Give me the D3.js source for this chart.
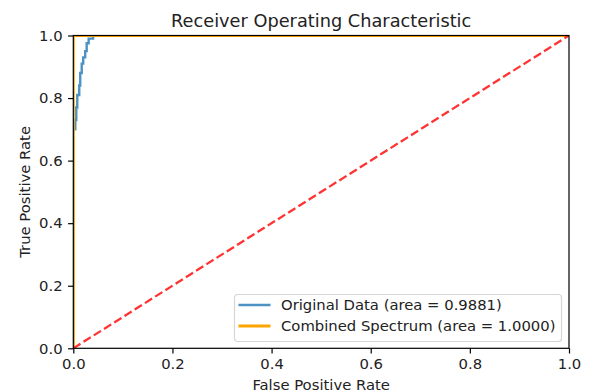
<!DOCTYPE html>
<html>
<head>
<meta charset="utf-8">
<script src="https://cdn.jsdelivr.net/npm/d3@7"></script>
<style>
  body { margin: 0; background: #fff; }
  text { font-family: "DejaVu Sans", sans-serif; fill: #222; }
</style>
</head>
<body>
<div class="chart"></div>
<script>
// chart data
var origFpr = [0, 0, 0.004, 0.004, 0.006, 0.006, 0.008, 0.008, 0.012, 0.012, 0.014, 0.014,
    0.017, 0.017, 0.02, 0.02, 0.024, 0.024, 0.027, 0.027, 0.031, 0.031, 0.04, 0.04, 1];
var origTpr = [0, 0.70, 0.70, 0.73, 0.73, 0.77, 0.77, 0.81, 0.81, 0.84, 0.84, 0.88,
    0.88, 0.91, 0.91, 0.93, 0.93, 0.95, 0.95, 0.975, 0.975, 0.99, 0.99, 1, 1];
var combFpr = [0, 0, 1];
var combTpr = [0, 1, 1];
var diagX = [0, 1], diagY = [0, 1];
var ticks = [0, 0.2, 0.4, 0.6, 0.8, 1.0];
var legendLabels = ["Original Data (area = 0.9881)", "Combined Spectrum (area = 1.0000)"];

var width = 593, height = 392;
var margin = {left: 73.3, right: 24, top: 35.5, bottom: 43.7};
var fs = 14.8; // base font size

var svg = d3.select("div.chart").append("svg")
    .attr("width", width)
    .attr("height", height);

var x = d3.scaleLinear().domain([0, 1]).range([margin.left, width - margin.right]);
var y = d3.scaleLinear().domain([0, 1]).range([height - margin.bottom, margin.top]);

//axes
svg.append("g")
    .attr("transform", "translate(0," + y(0) + ")")
    .call(d3.axisBottom(x).tickValues(ticks).tickFormat(d3.format(".1f")).tickSize(5.2).tickPadding(5))
    .call(g => g.select(".domain").remove())
    .call(g => g.selectAll("text").style("font-size", fs + "px").style("font-family", "DejaVu Sans"));

svg.append("g")
    .attr("transform", "translate(" + x(0) + ",0)")
    .call(d3.axisLeft(y).tickValues(ticks).tickFormat(d3.format(".1f")).tickSize(5.2).tickPadding(5.5))
    .call(g => g.select(".domain").remove())
    .call(g => g.selectAll("text").style("font-size", fs + "px").style("font-family", "DejaVu Sans"));

svg.selectAll(".tick line").attr("stroke", "#000").attr("stroke-width", 1.2);

svg.append("clipPath").attr("id", "clip")
    .append("rect")
    .attr("x", x(0)).attr("y", y(1))
    .attr("width", x(1) - x(0)).attr("height", y(0) - y(1));

var line = d3.line().x(d => x(d[0])).y(d => y(d[1]));
var plot = svg.append("g").attr("clip-path", "url(#clip)");

plot.append("path")
    .datum(d3.zip(origFpr, origTpr))
    .attr("d", line)
    .attr("fill", "none")
    .attr("stroke", "#1f77b4")
    .attr("stroke-opacity", 0.8)
    .attr("stroke-width", 2.4);

plot.append("path")
    .datum(d3.zip(combFpr, combTpr))
    .attr("d", line)
    .attr("fill", "none")
    .attr("stroke", "orange")
    .attr("stroke-width", 3);

plot.append("path")
    .datum(d3.zip(diagX, diagY))
    .attr("d", line)
    .attr("fill", "none")
    .attr("stroke", "red")
    .attr("stroke-opacity", 0.8)
    .attr("stroke-width", 2.3)
    .attr("stroke-dasharray", "8.5,3.6");

// frame
svg.append("rect")
    .attr("x", x(0)).attr("y", y(1))
    .attr("width", x(1) - x(0)).attr("height", y(0) - y(1))
    .attr("fill", "none")
    .attr("stroke", "#000")
    .attr("stroke-width", 1.2);

// title and labels
svg.append("text")
    .attr("x", (x(0) + x(1)) / 2).attr("y", 26.5)
    .attr("text-anchor", "middle")
    .style("font-size", (fs * 1.2) + "px")
    .text("Receiver Operating Characteristic");

svg.append("text")
    .attr("x", (x(0) + x(1)) / 2).attr("y", 390)
    .attr("text-anchor", "middle")
    .style("font-size", fs + "px")
    .text("False Positive Rate");

svg.append("text")
    .attr("transform", "translate(29.5," + (y(0) + y(1)) / 2 + ") rotate(-90)")
    .attr("text-anchor", "middle")
    .style("font-size", fs + "px")
    .text("True Positive Rate");

// legend
var lg = svg.append("g").attr("transform", "translate(234.5,294.5)");
lg.append("rect")
    .attr("width", 327).attr("height", 47)
    .attr("rx", 3)
    .attr("fill", "#fff").attr("fill-opacity", 0.8)
    .attr("stroke", "#d6d6d6").attr("stroke-width", 1.2);

var legendColors = ["#1f77b4", "orange"];
legendLabels.forEach(function (lab, i) {
    var yy = 10.5 + i * 21;
    lg.append("line")
        .attr("x1", 4).attr("x2", 36).attr("y1", yy).attr("y2", yy)
        .attr("stroke", legendColors[i])
        .attr("stroke-opacity", i == 0 ? 0.8 : 1)
        .attr("stroke-width", i == 0 ? 2.4 : 3);
    lg.append("text")
        .attr("x", 46.5).attr("y", yy + 5.3)
        .style("font-size", fs + "px")
        .text(lab);
});
</script>
</body>
</html>
